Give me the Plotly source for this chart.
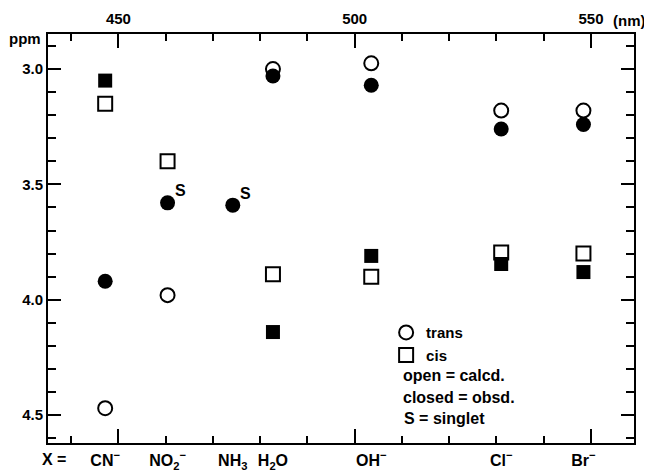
import plotly.graph_objects as go

# ---- data ----
compounds = ["CN<sup>−</sup>", "NO<sub>2</sub><sup>−</sup>", "NH<sub>3</sub>", "H<sub>2</sub>O",
             "OH<sup>−</sup>", "Cl<sup>−</sup>", "Br<sup>−</sup>"]
wavelength_nm = [447.2, 460.4, 474.2, 482.7, 503.5, 531.0, 548.4]

trans_calcd = [4.47, 3.98, None, 3.00, 2.975, 3.18, 3.18]   # open circles
trans_obsd = [3.92, 3.58, 3.59, 3.03, 3.07, 3.26, 3.24]     # filled circles
cis_calcd = [3.15, 3.40, None, 3.89, 3.90, 3.795, 3.80]     # open squares
cis_obsd = [3.05, None, None, 4.14, 3.81, 3.845, 3.88]      # filled squares
singlet = [False, True, True, False, False, False, False]

nm_ticks = [450, 500, 550]
nm_ticktext = ["<b>450</b>", "<b>500</b>", "<b>550</b>"]
ppm_ticks = [3.0, 3.5, 4.0, 4.5]
ppm_ticktext = ["<b>3.0</b>", "<b>3.5</b>", "<b>4.0</b>", "<b>4.5</b>"]

x_range = [435.1, 559.1]
y_range = [4.621, 2.848]

FONT = "Liberation Sans"
fs = 15
lfs = 16

fig = go.Figure()

fig.add_trace(go.Scatter(x=wavelength_nm, y=cis_obsd, mode="markers", showlegend=False,
                         marker=dict(symbol="square", size=14, color="black",
                                     line=dict(width=0))))
fig.add_trace(go.Scatter(x=wavelength_nm, y=trans_obsd, mode="markers", showlegend=False,
                         marker=dict(symbol="circle", size=15, color="black",
                                     line=dict(width=0))))
fig.add_trace(go.Scatter(x=wavelength_nm, y=trans_calcd, mode="markers",
                         name="<b>trans</b>",
                         marker=dict(symbol="circle-open", size=14, color="black",
                                     line=dict(width=2, color="black"))))
fig.add_trace(go.Scatter(x=wavelength_nm, y=cis_calcd, mode="markers",
                         name="<b>cis</b>",
                         marker=dict(symbol="square-open", size=14, color="black",
                                     line=dict(width=2, color="black"))))
# invisible trace to carry the top wavelength axis
fig.add_trace(go.Scatter(x=x_range, y=[None, None], xaxis="x2", mode="lines",
                         showlegend=False, hoverinfo="skip"))

annotations = [
    dict(text="<b>S</b>", x=x, y=y, xref="x", yref="y", xshift=13, yshift=12,
         showarrow=False, font=dict(size=lfs))
    for x, y, s in zip(wavelength_nm, trans_obsd, singlet) if s
]
annotations += [
    dict(text="<b>ppm</b>", xref="paper", yref="paper", x=-0.008, y=0.99,
         xanchor="right", yanchor="middle", showarrow=False),
    dict(text="<b>(nm)</b>", xref="paper", yref="paper", x=0.961, y=1.034,
         xanchor="left", yanchor="middle", showarrow=False),
    dict(text="<b>X =</b>", xref="paper", yref="paper", x=0.0094, y=-0.040,
         xanchor="center", yanchor="middle", showarrow=False, font=dict(size=lfs)),
    dict(text="<b>open = calcd.</b>", xref="paper", yref="paper", x=0.602, y=0.166,
         xanchor="left", yanchor="middle", showarrow=False, font=dict(size=lfs)),
    dict(text="<b>closed = obsd.</b>", xref="paper", yref="paper", x=0.602, y=0.112,
         xanchor="left", yanchor="middle", showarrow=False, font=dict(size=lfs)),
    dict(text="<b>S = singlet</b>", xref="paper", yref="paper", x=0.604, y=0.061,
         xanchor="left", yanchor="middle", showarrow=False, font=dict(size=lfs)),
]

fig.update_layout(
    width=652, height=472,
    margin=dict(l=39.5, r=25.5, t=26, b=37, autoexpand=False),
    paper_bgcolor="white", plot_bgcolor="white",
    font=dict(family=FONT, size=fs, color="black"),
    xaxis=dict(range=x_range, side="bottom", tickmode="array",
               tickvals=wavelength_nm, ticktext=["<b>%s</b>" % c for c in compounds],
               ticks="", automargin=False, tickfont=dict(size=lfs),
               showgrid=False, zeroline=False, showline=True, linecolor="black",
               linewidth=2, mirror=True, ticklabelstandoff=2),
    xaxis2=dict(range=x_range, overlaying="x", side="top", anchor="y",
                tickmode="array", tickvals=nm_ticks, ticktext=nm_ticktext,
                ticks="inside", ticklen=14, tickwidth=2, tickcolor="black",
                minor=dict(dtick=10, tick0=440, ticks="inside", ticklen=7,
                           tickwidth=1.5, tickcolor="black"),
                mirror="ticks", showline=False, showgrid=False, zeroline=False,
                automargin=False, ticklabelstandoff=6),
    yaxis=dict(range=y_range, tickmode="array", tickvals=ppm_ticks,
               ticktext=ppm_ticktext, ticks="inside", ticklen=13, tickwidth=2,
               tickcolor="black",
               minor=dict(dtick=0.1, tick0=2.9, ticks="inside", ticklen=8,
                          tickwidth=1.5, tickcolor="black"),
               mirror="ticks", showline=True, linecolor="black", linewidth=2,
               showgrid=False, zeroline=False, automargin=False,
               ticklabelstandoff=0),
    legend=dict(x=0.577, y=0.310, xanchor="left", yanchor="top",
                bgcolor="rgba(0,0,0,0)", font=dict(family=FONT, size=fs),
                tracegroupgap=0, itemwidth=30),
    annotations=annotations,
)

fig.write_html("out.html")
